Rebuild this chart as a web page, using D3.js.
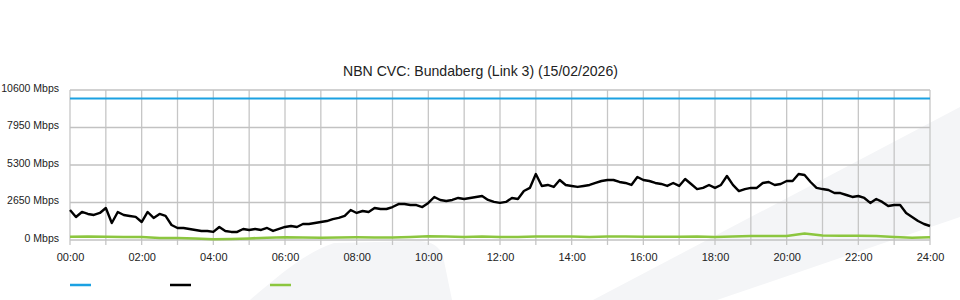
<!DOCTYPE html>
<html>
<head>
<meta charset="utf-8">
<script src="https://cdn.jsdelivr.net/npm/d3@7"></script>
<style>
  html, body { margin: 0; padding: 0; background: #fff; }
  svg { display: block; font-family: "Liberation Sans", Arial, sans-serif; }
</style>
</head>
<body>
<svg id="chart" width="960" height="300"></svg>
<script>
const title = "NBN CVC: Bundaberg (Link 3) (15/02/2026)";
const yTicks = [0, 2650, 5300, 7950, 10600];
const xTickHours = [0, 2, 4, 6, 8, 10, 12, 14, 16, 18, 20, 22, 24];
const xTickLabels = ["00:00","02:00","04:00","06:00","08:00","10:00","12:00","14:00","16:00","18:00","20:00","22:00","24:00"];
const gridHours = d3.range(0, 25);

// capacity (blue), hours
const capacityHours = [0, 24];
const capacity = [10000, 10000];

// traffic (black), 10-minute samples from 00:00 to 24:00, Mbps
const trafficStepMin = 10;
const traffic = [
  2120,1625,1980,1840,1770,1910,2260,1200,1980,1770,
  1700,1630,1270,1980,1560,1840,1700,1060,850,850,
  780,710,640,640,570,920,640,570,570,780,
  710,780,710,850,640,780,920,990,920,1130,
  1130,1200,1270,1340,1480,1560,1700,2120,1910,2050,
  1980,2260,2190,2190,2330,2540,2540,2470,2470,2330,
  2620,3040,2830,2760,2830,2970,2900,2970,3040,3110,
  2830,2690,2620,2690,2970,2900,3460,3680,4660,3820,
  3890,3750,4240,3890,3820,3750,3820,3890,4030,4170,
  4240,4240,4100,4030,3890,4450,4240,4170,4030,3960,
  3820,4030,3820,4310,3960,3600,3680,3890,3680,3890,
  4520,3890,3460,3600,3680,3680,4030,4100,3890,3960,
  4170,4170,4660,4590,4100,3680,3600,3530,3320,3320,
  3180,3040,3110,2970,2620,2900,2690,2400,2470,2470,
  1910,1630,1340,1130,990
];

// upload / other (green), 30-minute samples, Mbps
const otherStepMin = 30;
const other = [
  230,250,230,210,210,140,140,110,50,70,
  110,160,190,180,160,180,190,180,180,210,
  260,250,210,250,210,210,250,250,250,210,
  250,250,230,230,230,250,210,250,280,280,
  280,460,320,300,300,280,210,160,190
];

const seriesColors = ["#1ba1e2", "#000000", "#8cc63f"];
const legendNames = ["", "", ""];

const svg = d3.select("#chart");
const W = 960, H = 300;
const m = { left: 70, right: 30, top: 90, bottom: 60 };

// decorative watermark shapes in background
const bg = svg.append("g");
bg.append("path")
  .attr("d", "M250,300 C278,276 306,252 334,243 L420,241 Q438,242 443,256 L452,300 Z")
  .attr("fill", "#f4f5f7");
bg.append("path")
  .attr("d", "M593,300 L960,107 L960,217 L717,300 Z")
  .attr("fill", "#f4f5f7");

const x = d3.scaleLinear().domain([0, 24]).range([m.left, W - m.right]);
const y = d3.scaleLinear().domain([0, 10600]).range([H - m.bottom, m.top]);

// title
svg.append("text")
  .attr("x", W / 2 + 0.5).attr("y", 76)
  .attr("text-anchor", "middle")
  .attr("font-size", 14.1).attr("fill", "#222")
  .text(title);

// grid
const grid = svg.append("g");
grid.selectAll("line.v").data(gridHours).join("line")
  .attr("class", "v")
  .attr("x1", d => x(d)).attr("x2", d => x(d))
  .attr("y1", y(10600)).attr("y2", y(0) + 5)
  .attr("stroke", "#c6c6c6").attr("stroke-width", 1.3);
grid.selectAll("line.h").data(yTicks).join("line")
  .attr("class", "h")
  .attr("x1", x(0)).attr("x2", x(24))
  .attr("y1", d => y(d)).attr("y2", d => y(d))
  .attr("stroke", "#c2c2c2").attr("stroke-width", 1.6);

// y axis labels
const yAxis = d3.axisLeft(y).tickValues(yTicks).tickSize(0).tickPadding(11)
  .tickFormat(d => d + " Mbps");
const yg = svg.append("g").attr("transform", `translate(${x(0)},0)`).call(yAxis);
yg.select(".domain").remove();
yg.selectAll("text").attr("font-size", 10.5).attr("fill", "#222")
  .attr("font-family", "Liberation Sans, Arial, sans-serif").attr("dy", "0.12em");

// x axis labels
const xAxis = d3.axisBottom(x).tickValues(xTickHours).tickSize(0).tickPadding(13)
  .tickFormat((d, i) => xTickLabels[i]);
const xg = svg.append("g").attr("transform", `translate(0,${y(0)})`).call(xAxis);
xg.select(".domain").remove();
xg.selectAll("text").attr("font-size", 11).attr("fill", "#222")
  .attr("font-family", "Liberation Sans, Arial, sans-serif");

// lines
const line = d3.line().x(d => x(d[0])).y(d => y(d[1]));
const capData = capacity.map((v, i) => [capacityHours[i], v]);
const trafficData = traffic.map((v, i) => [i * trafficStepMin / 60, v]);
const otherData = other.map((v, i) => [i * otherStepMin / 60, v]);

svg.append("path").datum(capData).attr("d", line)
  .attr("fill", "none").attr("stroke", seriesColors[0]).attr("stroke-width", 2.2);
svg.append("path").datum(otherData).attr("d", line)
  .attr("fill", "none").attr("stroke", seriesColors[2]).attr("stroke-width", 2.6)
  .attr("stroke-linejoin", "round");
svg.append("path").datum(trafficData).attr("d", line)
  .attr("fill", "none").attr("stroke", seriesColors[1]).attr("stroke-width", 2.4)
  .attr("stroke-linejoin", "round");

// legend
const lg = svg.append("g").attr("transform", "translate(70,285)");
const li = lg.selectAll("g").data(legendNames).join("g")
  .attr("transform", (d, i) => `translate(${i * 100},0)`);
li.append("line").attr("x1", 0).attr("x2", 21).attr("y1", 0).attr("y2", 0)
  .attr("stroke", (d, i) => seriesColors[i]).attr("stroke-width", 2.5);
li.append("text").attr("x", 26).attr("y", 4).attr("font-size", 11).text(d => d);
</script>
</body>
</html>
